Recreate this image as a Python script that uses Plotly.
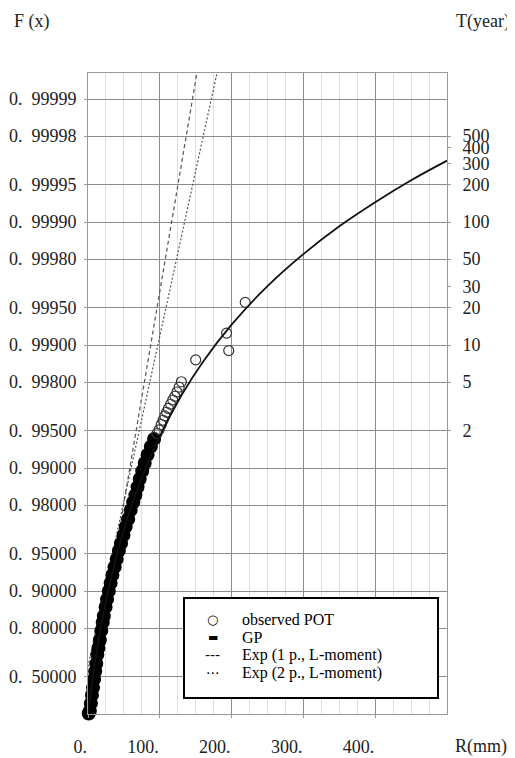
import numpy as np
import plotly.graph_objects as go

# ---- axis tick values -------------------------------------------------
f_ticks = [0.5, 0.8, 0.9, 0.95, 0.98, 0.99, 0.995, 0.998, 0.999,
           0.9995, 0.9998, 0.9999, 0.99995, 0.99998, 0.99999]
t_ticks = [2, 5, 10, 20, 30, 50, 100, 200, 300, 400, 500]   # return period (years)
events_per_year = 100                                       # POT exceedances per year
x_ticks = [0, 100, 200, 300, 400]
x_labels = ["0.", "100.", "200.", "300.", "400."]

# ---- observed POT (dense part of the sample) --------------------------
dense_R = [1, 2.5, 4, 5.5, 7, 8.5, 10, 11.5, 13, 14.5, 16.5, 18.5, 20.5, 22, 24.5,
           26.5, 29, 31.5, 34, 37, 40, 43, 46, 49.5, 52.5, 56, 59.5, 63, 66,
           69, 72, 75.5, 79, 83, 87.5, 92]
dense_F = [0.01, 0.05, 0.18, 0.30, 0.39, 0.48, 0.55, 0.61, 0.67, 0.71, 0.75, 0.79,
           0.82, 0.84, 0.865, 0.883, 0.90, 0.914, 0.926, 0.936, 0.945, 0.953,
           0.959, 0.965, 0.970, 0.974, 0.978, 0.981, 0.9834, 0.9857, 0.9877,
           0.9894, 0.9909, 0.9922, 0.9933, 0.9942]

# ---- observed POT (largest values) ------------------------------------
sparse_R = [96, 99, 102, 104.5, 107, 109.5, 112, 115, 118, 121, 124, 127, 130,
            150, 196, 193, 219]
sparse_F = [0.99475, 0.99511, 0.99557, 0.99591, 0.99623, 0.99648, 0.99672,
            0.99697, 0.99720, 0.99739, 0.99759, 0.99780, 0.99801, 0.99868,
            0.99889, 0.99920, 0.99955]

# ---- fitted GP distribution --------------------------------------------
gp_R = [0, 10, 20, 35, 50, 75, 100, 130, 160, 200, 250, 300, 350, 400, 450, 500]
gp_F = [0.0, 0.6284, 0.8314, 0.9328, 0.96857, 0.98809, 0.994483, 0.997420,
        0.998626, 0.999317, 0.999668, 0.9998176, 0.9998916, 0.9999309,
        0.9999542, 0.9999683]

# ---- exponential fits ----------------------------------------------------
exp1_R = [0, 152]
exp1_F = [0.0, 0.999994]
exp2_R = [0, 180]
exp2_F = [0.589, 0.999994]


def reduced(F):
    """Exponential probability paper: -ln(1-F)."""
    return -np.log(1.0 - np.asarray(F, dtype=float))


SERIF = "Liberation Serif, Times New Roman, serif"
fig = go.Figure()

fig.add_trace(go.Scatter(x=exp1_R, y=reduced(exp1_F), mode="lines",
                         line=dict(color="#555", width=1.2, dash="4px,3px"),
                         name="Exp (1 p., L-moment)", showlegend=False))
fig.add_trace(go.Scatter(x=exp2_R, y=reduced(exp2_F), mode="lines",
                         line=dict(color="#555", width=1.2, dash="2px,2px"),
                         name="Exp (2 p., L-moment)", showlegend=False))
fig.add_trace(go.Scatter(x=dense_R, y=reduced(dense_F), mode="markers",
                         marker=dict(symbol="circle", size=14, color="black"),
                         cliponaxis=False, name="observed POT", showlegend=False))
fig.add_trace(go.Scatter(x=sparse_R, y=reduced(sparse_F), mode="markers",
                         marker=dict(symbol="circle-open", size=10, color="#333",
                                     line=dict(width=1.2)),
                         name="observed POT", showlegend=False))
fig.add_trace(go.Scatter(x=gp_R, y=reduced(gp_F), mode="lines",
                         line=dict(color="#111", width=1.8, shape="spline"),
                         name="GP", showlegend=False, yaxis="y2"))

f_text = [f"{f:.5f}".replace(".", ".\u00a0\u00a0") for f in f_ticks]

# the page adds an 8px body margin, so the figure is drawn 8px smaller
fig.update_layout(
    width=507, height=750,
    margin=dict(l=80, r=68, t=65, b=44, autoexpand=False),
    paper_bgcolor="white", plot_bgcolor="white",
    showlegend=False,
    xaxis=dict(range=[0, 500], tickvals=x_ticks, ticktext=x_labels,
               ticklabelposition="outside left", automargin=False,
               showgrid=True, gridcolor="#8c8c8c", gridwidth=1,
               minor=dict(dtick=25, tick0=0, showgrid=True, gridcolor="#dedede",
                          gridwidth=1),
               zeroline=False, showline=True, mirror=True, linecolor="#999",
               ticks="outside", ticklen=3, tickcolor="#999",
               ticklabelstandoff=16,
               tickfont=dict(family=SERIF, size=18, color="#222")),
    yaxis=dict(range=[0, 12], tickvals=reduced(f_ticks), ticktext=f_text,
               automargin=False,
               showgrid=True, gridcolor="#8c8c8c", gridwidth=1,
               zeroline=False, showline=True, mirror=True, linecolor="#999",
               ticks="outside", ticklen=3, tickcolor="#999",
               ticklabelstandoff=4,
               tickfont=dict(family=SERIF, size=18, color="#222")),
    yaxis2=dict(range=[0, 12], overlaying="y", side="right", automargin=False,
                tickvals=np.log(events_per_year * np.array(t_ticks, float)),
                ticktext=[str(t) for t in t_ticks],
                showgrid=False, zeroline=False,
                ticks="outside", ticklen=3, tickcolor="#999",
                ticklabelstandoff=8,
                tickfont=dict(family=SERIF, size=18, color="#222")),
)

# axis titles
fig.add_annotation(text="F (x)", xref="paper", yref="paper", x=-0.212, y=1.0796,
                   xanchor="left", yanchor="middle", showarrow=False,
                   font=dict(family=SERIF, size=18, color="#222"))
fig.add_annotation(text="T(year)", xref="paper", yref="paper", x=1.0195, y=1.0796,
                   xanchor="left", yanchor="middle", showarrow=False,
                   font=dict(family=SERIF, size=18, color="#222"))
fig.add_annotation(text="R(mm)", xref="paper", yref="paper", x=1.0167, y=-0.050,
                   xanchor="left", yanchor="middle", showarrow=False,
                   font=dict(family=SERIF, size=18, color="#222"))

# legend box
fig.add_shape(type="rect", xref="paper", yref="paper",
              x0=0.2674, x1=0.9749, y0=0.025, y1=0.181,
              line=dict(color="black", width=2), fillcolor="white", layer="above")
legend_syms = ["\u25cb", "\u25ac", "---", "\u00b7\u00b7\u00b7"]
legend_names = ["observed POT", "GP", "Exp (1 p., L-moment)", "Exp (2 p., L-moment)"]
legend_rows = [0.1482, 0.1201, 0.0920, 0.0640]
sym_sizes = [13, 11, 14, 14]
for s, n, yy, ss in zip(legend_syms, legend_names, legend_rows, sym_sizes):
    fig.add_annotation(text=s, xref="paper", yref="paper", x=0.348, y=yy,
                       xanchor="center", yanchor="middle", showarrow=False,
                       font=dict(family="DejaVu Sans, " + SERIF, size=ss, color="black"))
    fig.add_annotation(text=n, xref="paper", yref="paper", x=0.4234, y=yy,
                       xanchor="left", yanchor="middle", showarrow=False,
                       font=dict(family=SERIF, size=16, color="black"))

fig.write_html("out.html")
